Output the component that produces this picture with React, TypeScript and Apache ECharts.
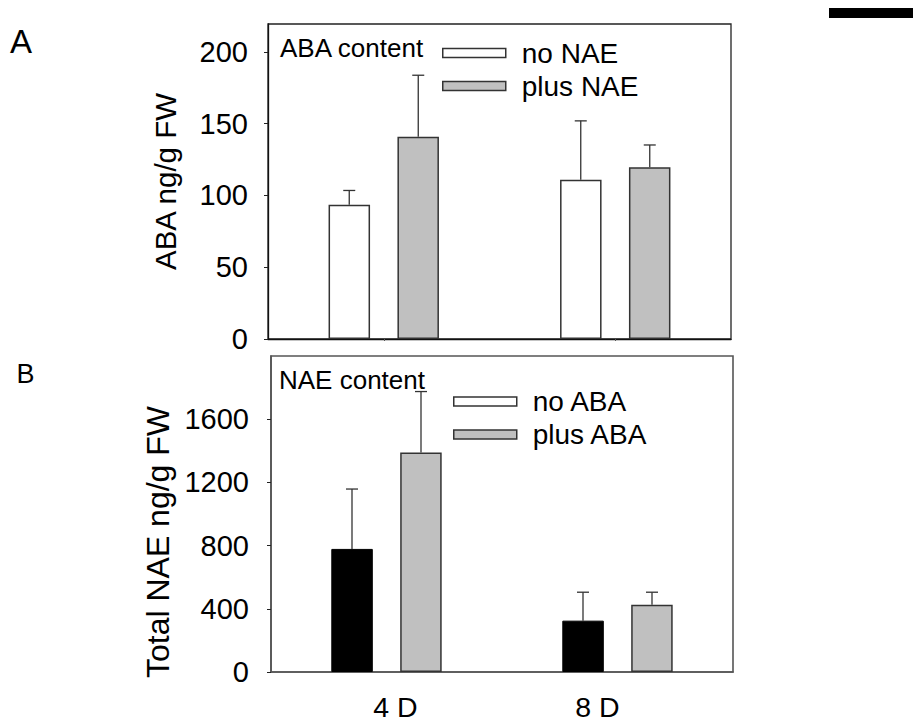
import React, { useEffect, useRef } from "react";
import * as echarts from "echarts";

const categories = ["4 D", "8 D"];
const abaTicks = [0, 50, 100, 150, 200];
const naeTicks = [0, 400, 800, 1200, 1600];

const abaNoNAE = [93.5, 111];
const abaNoNAEErr = [10, 41];
const abaPlusNAE = [141, 119.7];
const abaPlusNAEErr = [42.8, 15.5];

const naeNoABA = [779, 325];
const naeNoABAErr = [379, 180];
const naePlusABA = [1390, 426];
const naePlusABAErr = [385, 79];

const FONT = "'Liberation Sans', Arial, sans-serif";

function errSeries(axis: number, values: number[], errs: number[], offset: number) {
  return {
    type: "custom",
    xAxisIndex: axis,
    yAxisIndex: axis,
    silent: true,
    z: 5,
    data: values.map((v, i) => [i, v, errs[i]]),
    encode: { x: 0, y: 1 },
    renderItem: (_p: any, api: any) => {
      const c = api.value(0);
      const v = api.value(1);
      const e = api.value(2);
      const p0 = api.coord([c, v]);
      const p1 = api.coord([c, v + e]);
      const x = p0[0] + offset;
      const st = { stroke: "#333", lineWidth: 1.3 };
      return {
        type: "group",
        children: [
          { type: "line", shape: { x1: x, y1: p0[1], x2: x, y2: p1[1] }, style: st },
          { type: "line", shape: { x1: x - 6, y1: p1[1], x2: x + 6, y2: p1[1] }, style: st },
        ],
      };
    },
  };
}

function legendItem(name: string, left: number, top: number, color: string) {
  return {
    data: [{ name, itemStyle: { color, borderColor: "#333", borderWidth: 1.5 } }],
    left,
    top,
    padding: 0,
    icon: "rect",
    itemWidth: 63,
    itemHeight: 9,
    selectedMode: false,
    textStyle: { fontSize: 28, fontFamily: FONT, color: "#000", padding: [0, 0, 0, 11] },
  };
}

export default function App() {
  const ref = useRef<HTMLDivElement>(null);
  useEffect(() => {
    if (!ref.current) return;
    const chart = echarts.init(ref.current, null, { renderer: "svg" });
    const yLabel = { fontSize: 29, fontFamily: FONT, color: "#000", formatter: (v: number) => String(v) };
    chart.setOption({
      animation: false,
      backgroundColor: "#fff",
      title: [
        { text: "ABA content", left: 280, top: 35, padding: 0, textStyle: { fontSize: 26, fontWeight: "normal", fontFamily: FONT, color: "#000" } },
        { text: "NAE content", left: 279, top: 367, padding: 0, textStyle: { fontSize: 26, fontWeight: "normal", fontFamily: FONT, color: "#000" } },
      ],
      legend: [
        legendItem("no NAE", 442, 39, "#fff"),
        legendItem("plus NAE", 442, 72, "#c0c0c0"),
        legendItem("no ABA", 453, 387.5, "#fff"),
        legendItem("plus ABA", 453, 420.5, "#c0c0c0"),
      ],
      grid: [
        { left: 268, top: 24, width: 463, height: 315, show: true, borderColor: "#222", borderWidth: 1.3 },
        { left: 271, top: 356, width: 462, height: 316, show: true, borderColor: "#555", borderWidth: 1.6 },
      ],
      xAxis: [
        {
          type: "category",
          gridIndex: 0,
          data: categories,
          axisLine: { lineStyle: { color: "#111", width: 1.3 } },
          axisTick: { show: true, alignWithLabel: true, length: 2, lineStyle: { color: "#555" } },
          axisLabel: { show: false },
        },
        {
          type: "category",
          gridIndex: 1,
          data: categories,
          axisLine: { lineStyle: { color: "#555", width: 1.6 } },
          axisTick: { show: false },
          axisLabel: {
            margin: 20,
            formatter: (v: string, i: number) => (i === 0 ? `{a|${v}}` : `{b|${v}}`),
            rich: {
              a: { fontSize: 28.5, fontFamily: FONT, color: "#000", padding: [0, 0, 0, 18] },
              b: { fontSize: 28.5, fontFamily: FONT, color: "#000", padding: [0, 40, 0, 0] },
            },
          },
        },
      ],
      yAxis: [
        {
          type: "value",
          gridIndex: 0,
          min: 0,
          max: 219.5,
          name: "ABA ng/g FW",
          nameLocation: "middle",
          nameGap: 88,
          nameTextStyle: { fontSize: 29.5, fontFamily: FONT, color: "#000" },
          axisLine: { show: true, lineStyle: { color: "#111", width: 1.3 } },
          axisTick: { show: true, length: 4, customValues: abaTicks, lineStyle: { color: "#222" } },
          axisLabel: { ...yLabel, margin: 20, customValues: abaTicks },
          splitLine: { show: false },
        },
        {
          type: "value",
          gridIndex: 1,
          min: 0,
          max: 2000,
          name: "Total NAE ng/g FW",
          nameLocation: "middle",
          nameGap: 83,
          nameTextStyle: { fontSize: 32, fontFamily: FONT, color: "#000", padding: [0, 56, 0, 0] },
          axisLine: { show: true, lineStyle: { color: "#555", width: 1.6 } },
          axisTick: { show: true, length: 4, customValues: naeTicks, lineStyle: { color: "#222" } },
          axisLabel: { ...yLabel, margin: 22, customValues: naeTicks },
          splitLine: { show: false },
        },
      ],
      series: [
        {
          name: "no NAE",
          type: "bar",
          xAxisIndex: 0,
          yAxisIndex: 0,
          data: abaNoNAE,
          barWidth: 41.5,
          barGap: "66%",
          itemStyle: { color: "#fff", borderColor: "#333", borderWidth: 1.5 },
        },
        {
          name: "plus NAE",
          type: "bar",
          xAxisIndex: 0,
          yAxisIndex: 0,
          data: abaPlusNAE,
          barWidth: 41.5,
          barGap: "66%",
          itemStyle: { color: "#c0c0c0", borderColor: "#333", borderWidth: 1.5 },
        },
        errSeries(0, abaNoNAE, abaNoNAEErr, -34.5),
        errSeries(0, abaPlusNAE, abaPlusNAEErr, 34.5),
        {
          name: "no ABA",
          type: "bar",
          xAxisIndex: 1,
          yAxisIndex: 1,
          data: naeNoABA,
          barWidth: 41.5,
          barGap: "66%",
          itemStyle: { color: "#000", borderColor: "#000", borderWidth: 1 },
        },
        {
          name: "plus ABA",
          type: "bar",
          xAxisIndex: 1,
          yAxisIndex: 1,
          data: naePlusABA,
          barWidth: 41.5,
          barGap: "66%",
          itemStyle: { color: "#c0c0c0", borderColor: "#333", borderWidth: 1.5 },
        },
        errSeries(1, naeNoABA, naeNoABAErr, -34.5),
        errSeries(1, naePlusABA, naePlusABAErr, 34.5),
      ],
      graphic: [
        { type: "text", x: 21, y: 41.5, style: { text: "A", fontSize: 33, fontFamily: FONT, fill: "#000", align: "center", verticalAlign: "middle" } },
        { type: "text", x: 25.5, y: 374, style: { text: "B", fontSize: 27, fontFamily: FONT, fill: "#000", align: "center", verticalAlign: "middle" } },
        { type: "rect", shape: { x: 829, y: 8, width: 84, height: 10 }, style: { fill: "#000" } },
      ],
    });
    return () => chart.dispose();
  }, []);
  return (
    <div
      ref={ref}
      style={{ position: "fixed", left: 0, top: 0, width: 913, height: 721, background: "#fff" }}
    />
  );
}
